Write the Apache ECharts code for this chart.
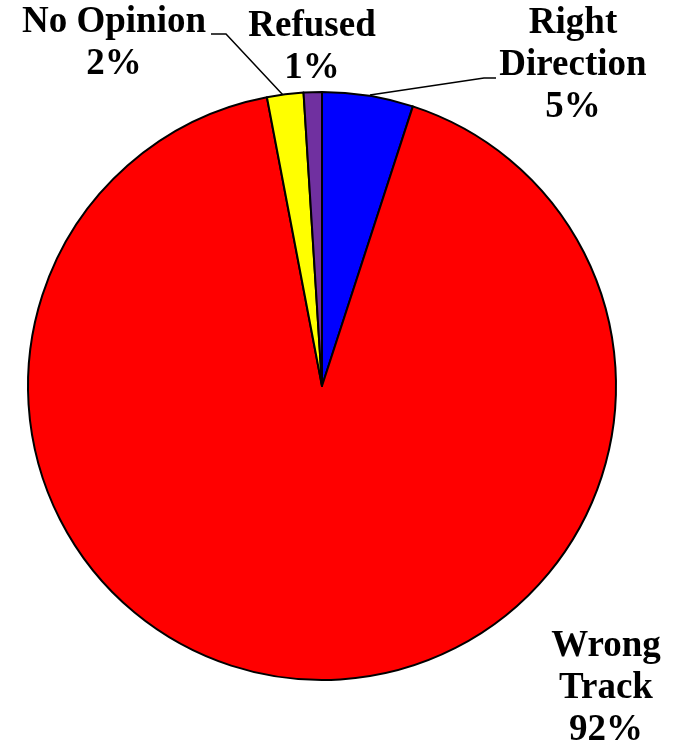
<!DOCTYPE html>
<html>
<head>
<meta charset="utf-8">
<script src="https://cdn.jsdelivr.net/npm/echarts@6/dist/echarts.min.js"></script>
<style>html,body{margin:0;padding:0;background:#fff;}#c{width:679px;height:745px;}</style>
</head>
<body>
<div id="c"></div>
<script>
const categories = ['Right\nDirection', 'Wrong\nTrack', 'No Opinion', 'Refused'];
const values = [5, 92, 2, 1];
const colors = ['#0000FF', '#FF0000', '#FFFF00', '#7030A0'];

// label placement (layout only)
const labelPos = [
  { x: 573, y: 65, line: [[370, 95], [484, 78], [496, 78]] },
  { x: 606, y: 688, line: null },
  { x: 114, y: 43, line: [[283, 95], [226, 34], [211, 34]] },
  { x: 312, y: 47, line: null }
];

const chart = echarts.init(document.getElementById('c'), null, { renderer: 'canvas' });
chart.setOption({
  animation: false,
  backgroundColor: '#ffffff',
  series: [{
    type: 'pie',
    center: [322, 386],
    radius: 294,
    startAngle: 90,
    clockwise: true,
    avoidLabelOverlap: false,
    itemStyle: { borderColor: '#000', borderWidth: 2 },
    label: {
      show: true,
      position: 'outside',
      formatter: '{b}\n{c}%',
      fontFamily: 'Liberation Serif',
      fontWeight: 'bold',
      fontSize: 37,
      lineHeight: 42,
      color: '#000',
      align: 'center'
    },
    labelLine: { show: true, lineStyle: { color: '#000', width: 1.5 }, smooth: false },
    labelLayout: function (params) {
      const p = labelPos[params.dataIndex];
      const r = { x: p.x, y: p.y, align: 'center', verticalAlign: 'middle' };
      if (p.line) r.labelLinePoints = p.line;
      return r;
    },
    emphasis: { disabled: true },
    data: categories.map((c, i) => ({
      name: c,
      value: values[i],
      itemStyle: { color: colors[i] },
      labelLine: { show: !!labelPos[i].line }
    }))
  }]
});
</script>
</body>
</html>
